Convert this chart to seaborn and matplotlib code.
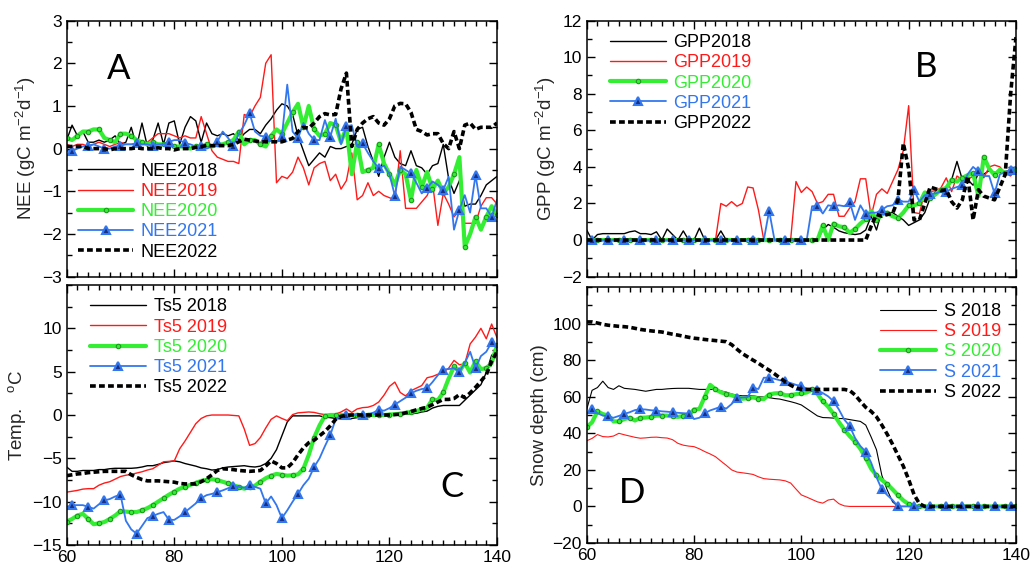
import matplotlib
matplotlib.use("Agg")
import matplotlib.pyplot as plt
from matplotlib.lines import Line2D
from matplotlib.ticker import MultipleLocator
import pandas as pd
import seaborn as sns

# day of year, one value per day
DOY = list(range(60, 141))
YEARS = ["2018", "2019", "2020", "2021", "2022"]

NEE_2018 = [0.2, 0.55, 0.3, 0.4, 0.15, 0.15, 0.2, 0.15, 0.2, 0.3,
            0.1, 0.15, 0.5, 0.05, 0.6, 0.05, 0.2, 0.6, 0.1, 0.6,
            0.65, 0.1, 0.5, 0.75, 0.65, 0.15, 0.6, 0.35, 0.3, 0.35,
            0.3, 0.35, 0.2, 0.35, 0.45, 0.45, 0.35, 0.55, 0.7, 0.9,
            1.05, 1.0, 0.8, 0.3, -0.05, -0.4, -0.25, -0.1, -0.2, 0.05,
            0.0, 0.0, 0.05, 0.1, 0.45, 0.5, 0.05, -0.3, -0.65, -0.2,
            0.15, -0.2, -0.35, -0.4, -0.05, -0.4, -0.45, -0.6, -0.4, -0.35,
            0.1, -0.7, -1.05, -0.75, -1.35, -1.3, -1.3, -1.1, -0.85, -0.75,
            -0.65]
NEE_2019 = [0.1, 0.05, 0.1, 0.1, 0.05, 0.1, 0.15, 0.1, 0.05, 0.1,
            0.15, 0.1, 0.1, 0.1, 0.15, 0.15, 0.25, 0.35, 0.35, 0.35,
            0.3, 0.25, 0.3, 0.25, 0.25, 0.75, 0.35, -0.05, -0.2, -0.25,
            -0.3, -0.3, -0.35, 0.8, 0.75, 1.0, 1.2, 2.0, 2.2, -0.8,
            -0.65, -0.7, -0.55, -0.2, -0.45, -0.85, -0.45, -0.35, -0.3, -0.75,
            -0.6, -0.95, -0.75, -0.1, -1.2, -1.1, -0.8, -1.1, -1.0, -1.1,
            -1.15, -1.2, -0.05, -1.4, -1.4, -1.4, -1.25, -1.1, -0.8, -1.8,
            -1.05, -1.3, -1.6, -1.45, -1.75, -1.75, -1.75, -1.35, -1.15, -1.15,
            -1.3]
NEE_2020 = [0.25, 0.2, 0.3, 0.4, 0.4, 0.45, 0.45, 0.25, 0.2, 0.15,
            0.35, 0.35, 0.3, 0.2, 0.15, 0.1, 0.15, 0.1, 0.1, 0.1,
            0.05, 0.05, 0.05, 0.0, 0.05, 0.05, 0.1, 0.05, 0.1, 0.1,
            0.15, 0.2, 0.4, 0.1, 0.2, 0.2, 0.1, 0.05, 0.3, 0.45,
            0.35, 0.6, 0.85, 1.05, 0.5, 1.0, 0.45, 0.3, 0.35, 0.6,
            0.55, 0.15, 0.5, -0.6, 0.15, -0.55, -0.5, -0.45, 0.1, -0.35,
            -0.6, -0.85, -0.5, -0.6, -1.2, -0.5, -0.9, -0.55, -0.95, -0.75,
            -1.05, -0.9, -0.6, -0.2, -2.3, -2.0, -1.6, -1.9, -1.6, -1.35,
            -1.55]
NEE_2021 = [-0.05, -0.05, 0.0, 0.05, 0.07, 0.1, 0.05, 0.0, 0.0, 0.05,
            0.07, 0.1, 0.1, 0.13, 0.1, 0.1, 0.07, 0.1, 0.1, 0.16,
            0.2, 0.2, 0.13, 0.1, 0.05, 0.07, 0.0, 0.05, 0.16, 0.4,
            0.25, 0.07, 0.35, 0.55, 0.83, 0.4, 0.3, 0.28, 0.2, 0.15,
            0.28, 1.5, 0.4, 0.24, 0.6, 0.35, 0.2, 0.2, 0.67, 0.28,
            0.7, 0.1, 0.52, 0.55, 0.05, 0.12, -0.1, -0.3, -0.46, -0.4,
            -0.6, -1.1, -0.42, -0.5, -0.58, -0.8, -1.05, -0.93, -0.77, -0.85,
            -0.97, -0.66, -1.9, -1.44, -1.09, -1.5, -0.62, -1.4, -1.4, -1.6,
            -1.2]
NEE_2022 = [0.05, 0.05, 0.05, 0.05, 0.0, 0.0, 0.0, 0.0, -0.03, 0.0,
            0.0, 0.0, 0.0, 0.02, 0.0, 0.0, 0.0, 0.02, 0.0, 0.0,
            -0.03, 0.0, 0.0, 0.0, 0.03, 0.05, 0.07, 0.07, 0.07, 0.07,
            0.07, 0.1, 0.16, 0.22, 0.2, 0.18, 0.16, 0.16, 0.16, 0.16,
            0.16, 0.2, 0.24, 0.4, 0.5, 0.48, 0.6, 0.75, 0.82, 0.79,
            0.8, 1.4, 1.77, 0.05, 0.45, 0.6, 0.7, 0.75, 0.6, 0.55,
            0.7, 1.0, 1.06, 1.05, 0.85, 0.45, 0.4, 0.32, 0.35, 0.35,
            0.12, 0.0, 0.4, 0.0, 0.55, 0.6, 0.45, 0.5, 0.5, 0.5,
            0.6]

GPP_2018 = [0.55, 0.0, 0.3, 0.35, 0.35, 0.35, 0.35, 0.35, 0.45, 0.5,
            0.35, 0.35, 0.3, 0.45, 0.0, 0.6, 0.3, 0.0, 0.5, 0.0,
            0.0, 0.65, 0.0, 0.0, 0.0, 0.5, 0.0, 0.0, 0.0, 0.0,
            0.0, 0.15, 0.0, 0.0, 0.0, 0.0, 0.0, 0.0, 0.0, 0.0,
            0.0, 0.0, 0.0, 0.0, 0.55, 0.85, 0.7, 0.5, 0.4, 0.35,
            0.3, 0.35, 0.55, 1.3, 0.55, 1.6, 1.5, 1.5, 1.3, 1.1,
            0.8, 0.95, 1.1, 1.5, 2.3, 2.65, 2.7, 2.75, 3.3, 4.3,
            3.3, 3.3, 3.0, 3.65, 3.6, 3.8, 3.7, 3.7, 3.75, 3.8,
            4.0]
GPP_2019 = [0.0, 0.0, 0.0, 0.0, 0.0, 0.0, 0.0, 0.0, 0.0, 0.0,
            0.0, 0.0, 0.0, 0.0, 0.0, 0.0, 0.0, 0.0, 0.0, 0.0,
            0.0, 0.0, 0.0, 0.0, 0.0, 2.0, 1.85, 2.1, 1.85, 2.0,
            2.9, 2.85, 1.65, 0.0, 0.0, 0.0, 0.0, 0.0, 0.0, 3.2,
            2.6, 2.9, 2.65, 2.0, 2.1, 2.5, 2.5, 1.3, 1.3, 1.75,
            2.1, 3.35, 3.35, 1.3, 2.5, 2.8, 2.55, 3.2, 3.85, 4.9,
            7.35, 1.5, 1.45, 2.65, 2.65, 2.7, 2.85, 3.4, 2.65, 3.5,
            3.3, 3.3, 3.5, 3.75, 3.4, 4.0, 4.1, 4.0, 3.65, 3.5,
            3.9]
GPP_2020 = [0.0, 0.0, 0.0, 0.0, 0.0, 0.0, 0.0, 0.0, 0.0, 0.0,
            0.0, 0.0, 0.0, 0.0, 0.0, 0.0, 0.0, 0.0, 0.0, 0.0,
            0.0, 0.0, 0.0, 0.0, 0.0, 0.0, 0.0, 0.0, 0.0, 0.0,
            0.0, 0.0, 0.0, 0.0, 0.0, 0.0, 0.0, 0.0, 0.0, 0.0,
            0.0, 0.0, 0.0, 0.0, 0.8, 0.0, 0.9, 0.75, 0.7, 0.4,
            0.6, 0.9, 1.15, 1.6, 1.1, 1.4, 1.5, 1.3, 1.2, 1.5,
            1.9, 1.9, 2.0, 2.6, 2.3, 2.5, 2.75, 2.85, 3.3, 3.2,
            3.4, 3.55, 3.65, 2.4, 4.55, 3.9, 3.55, 3.85, 3.65, 3.7,
            3.85]
GPP_2021 = [0.0, 0.0, 0.0, 0.0, 0.0, 0.0, 0.0, 0.0, 0.0, 0.0,
            0.0, 0.0, 0.0, 0.0, 0.0, 0.0, 0.0, 0.0, 0.0, 0.0,
            0.0, 0.0, 0.0, 0.0, 0.0, 0.0, 0.0, 0.0, 0.0, 0.0,
            0.0, 0.0, 0.0, 0.0, 1.6, 0.0, 0.0, 0.0, 0.0, 0.0,
            0.0, 0.0, 1.85, 1.85, 1.45, 1.9, 1.85, 1.9, 1.85, 2.1,
            1.1, 1.9, 1.4, 1.5, 1.5, 1.65, 1.85, 1.9, 2.2, 2.1,
            2.1, 2.75, 2.1, 2.45, 2.5, 2.55, 2.65, 2.65, 2.8, 2.9,
            3.0, 3.6, 4.0, 3.75, 3.5, 3.5, 2.55, 3.6, 3.7, 3.85,
            4.0]
GPP_2022 = [0.0, 0.0, 0.0, 0.0, 0.0, 0.0, 0.0, 0.0, 0.0, 0.0,
            0.0, 0.0, 0.0, 0.0, 0.0, 0.0, 0.0, 0.0, 0.0, 0.0,
            0.0, 0.0, 0.0, 0.0, 0.0, 0.0, 0.0, 0.0, 0.0, 0.0,
            0.0, 0.0, 0.0, 0.0, 0.0, 0.0, 0.0, 0.0, 0.0, 0.0,
            0.0, 0.0, 0.0, 0.0, 0.0, 0.0, 0.0, 0.0, 0.0, 0.0,
            0.0, 0.0, 0.0, 0.75, 1.4, 1.3, 1.4, 1.45, 2.2, 5.3,
            3.9, 1.1, 1.1, 2.0, 2.9, 2.8, 2.7, 2.75, 2.1, 1.75,
            2.2, 3.5, 1.1, 2.75, 2.4, 2.3, 2.2, 2.9, 3.6, 8.0,
            11.1]

TS_2018 = [-6.0, -6.5, -6.5, -6.4, -6.4, -6.4, -6.3, -6.3, -6.2, -6.15,
           -6.15, -6.15, -6.15, -6.1, -6.0, -5.85, -5.85, -5.7, -5.5, -5.4,
           -5.3, -5.4, -5.6, -5.75, -5.9, -6.1, -6.2, -6.35, -6.3, -6.1,
           -6.0, -5.95, -5.9, -5.85, -5.95, -6.0, -5.9, -5.6, -5.0, -4.0,
           -2.4, -0.8, -0.1, -0.1, -0.1, -0.1, -0.1, -0.1, -0.25, -0.3,
           -0.4, -0.45, -0.5, -0.4, -0.3, -0.2, -0.1, -0.05, 0.0, 0.0,
           0.0, 0.0, 0.05, 0.08, 0.15, 0.2, 0.35, 0.45, 0.8, 1.0,
           1.1, 1.1, 1.1, 1.1, 1.7, 2.3, 2.9, 3.5, 4.9, 6.9,
           7.3]
TS_2019 = [-8.9, -8.8, -8.7, -8.55, -8.5, -8.5, -8.1, -7.85, -7.7, -7.4,
           -7.1, -6.95, -6.85, -6.7, -6.55, -6.35, -6.2, -5.8, -5.4, -5.35,
           -5.3, -3.9, -3.0, -2.0, -1.0, -0.4, -0.1, 0.0, 0.0, 0.0,
           0.0, -0.05, -0.1, -1.6, -3.5, -3.3, -2.6, -1.5, -0.5, -0.1,
           -0.4, -0.65, 0.05, 0.25, 0.3, 0.35, 0.3, 0.15, 0.05, 0.05,
           0.1, 0.35, 0.7, 0.3, 0.7, 0.85, 0.9, 1.1, 1.5, 2.3,
           3.3, 3.8, 2.6, 2.2, 2.8, 3.1, 3.4, 4.3, 4.45, 4.7,
           4.95, 5.4, 6.3, 5.8, 5.9, 8.2, 9.0, 10.0, 8.8, 10.5,
           8.9]
TS_2020 = [-12.3, -12.0, -11.6, -11.4, -12.0, -12.6, -12.5, -12.35, -12.0, -11.6,
           -11.1, -11.15, -11.2, -11.2, -11.0, -10.75, -10.4, -10.0, -9.6, -9.2,
           -8.85, -8.5, -8.3, -8.05, -7.85, -7.6, -7.5, -7.4, -7.5, -7.7,
           -7.9, -8.1, -8.3, -8.5, -8.3, -8.15, -7.7, -7.3, -7.0, -6.8,
           -6.9, -7.0, -6.95, -6.85, -6.2, -4.6, -2.6, -1.2, -0.1, 0.0,
           0.0, 0.0, 0.0, 0.0, 0.0, 0.0, 0.0, 0.0, 0.0, 0.0,
           0.05, 0.1, 0.15, 0.25, 0.35, 0.45, 0.65, 0.85, 1.8, 1.7,
           2.6, 4.2, 5.6, 5.0, 6.0, 4.9, 6.2, 5.3, 5.4, 6.0,
           8.1]
TS_2021 = [-10.6, -10.4, -10.4, -10.4, -10.6, -10.8, -10.3, -9.85, -9.7, -9.4,
           -9.2, -12.2, -13.2, -13.7, -12.8, -11.9, -11.65, -11.4, -11.2, -12.1,
           -12.1, -11.7, -11.2, -10.7, -10.2, -9.6, -9.25, -9.1, -8.9, -8.7,
           -8.45, -8.15, -8.3, -8.4, -8.05, -8.3, -8.5, -10.2, -9.4, -10.4,
           -11.9, -11.0, -10.0, -9.1, -8.1, -7.35, -6.0, -5.0, -3.6, -2.3,
           -0.5, -0.1, 0.0, 0.0, 0.0, 0.0, 0.1, 0.27, 0.6, 0.5,
           0.8, 1.2, 1.6, 2.0, 2.5, 2.8, 3.0, 3.1, 3.8, 4.6,
           5.25, 5.3, 5.4, 5.0, 6.0, 7.3, 5.4, 6.8, 7.3, 8.4,
           7.7]
TS_2022 = [-7.0, -6.9, -6.8, -6.75, -6.65, -6.6, -6.55, -6.5, -6.5, -6.5,
           -6.5, -6.5, -6.9, -7.2, -7.45, -7.6, -7.6, -7.6, -7.65, -7.7,
           -7.75, -7.9, -7.95, -7.95, -7.95, -7.7, -7.35, -6.9, -6.4, -6.2,
           -6.25, -6.3, -6.4, -6.45, -6.5, -6.45, -6.4, -5.9, -5.3, -5.6,
           -6.1, -6.1, -5.5, -4.6, -3.8, -3.2, -2.9, -2.4, -1.9, -1.25,
           -0.5, -0.15, -0.05, 0.0, 0.0, 0.0, 0.0, 0.0, 0.0, 0.0,
           0.0, 0.05, 0.1, 0.25, 0.4, 0.6, 0.75, 0.9, 1.2, 1.5,
           1.8, 1.8, 1.9, 2.35, 2.0, 2.55, 3.2, 3.9, 4.65, 6.2,
           7.3]

SD_2018 = [53, 63.5, 65, 68.5, 65, 64, 66, 64.6, 64.3, 64,
           63.5, 63, 63.5, 64, 64, 64.3, 64.5, 64.6, 64.6, 64.6,
           64.3, 64, 64, 64, 64, 63.2, 62.5, 61.5, 60.8, 60.5,
           60.5, 60.5, 60, 59.8, 59.5, 59, 58.7, 58, 57.3, 56.5,
           55.5, 53.5, 51.5, 49.5, 48.6, 48.5, 48.3, 48.1, 48, 47.5,
           47, 46.5, 44.5, 38, 31, 17, 9, 2.5, 0, 0,
           0, 0, 0, 0, 0, 0, 0, 0, 0, 0,
           0, 0, 0, 0, 0, 0, 0, 0, 0, 0,
           0]
SD_2019 = [35.9, 37.2, 39.3, 38.2, 38, 38.5, 40, 39.2, 38.5, 37.8,
           37.3, 37.5, 37.8, 37.9, 37.6, 37.4, 36.5, 34.5, 33.5, 33,
           32.7, 31.5, 30, 28.7, 27.2, 24.8, 22.5, 20, 18.8, 18.4,
           18, 17.5, 16.2, 15.2, 14.9, 14.7, 14.5, 14.0, 12.8, 9.5,
           6.3, 5.1, 3.8, 2.5, 1.8, 3.5, 4.0, 1.5, 0.3, 0,
           0, 0, 0, 0, 0, 0, 0, 0, 0, 0,
           0, 0, 0, 0, 0, 0, 0, 0, 0, 0,
           0, 0, 0, 0, 0, 0, 0, 0, 0, 0,
           0]
SD_2020 = [43.4, 46, 52, 50.5, 49.7, 46.5, 46.5, 47.8, 48.5, 47,
           48.5, 48.6, 49, 49.7, 49.7, 49.7, 49.2, 49, 49.4, 49.7,
           53, 53.3, 60, 66.5, 64, 62.4, 61.5, 60.8, 59.8, 58.9,
           59.2, 59.6, 59, 58.7, 61.2, 61.8, 62, 60.8, 60.8, 61.4,
           61.8, 62.3, 64, 61.5, 57.5, 54.5, 50.6, 46.1, 42, 38.5,
           35.5, 31.5, 26.5, 20.7, 17, 14.5, 12.2, 9.3, 6.2, 3.3,
           1.2, 0, 0, 0, 0, 0, 0, 0, 0, 0,
           0, 0, 0, 0, 0, 0, 0, 0, 0, 0,
           0]
SD_2021 = [50.6, 53.3, 51, 49.7, 49.2, 48.5, 49.5, 50.6, 51.5, 52.7,
           53.2, 53, 52.6, 52.4, 52, 51.8, 51.5, 51.2, 51, 50.8,
           47.8, 48.5, 51, 52.5, 53.5, 54.6, 53.5, 56, 59.2, 59.6,
           59.8, 65, 64.2, 70.4, 70.4, 69.8, 69, 68.4, 67.5, 66.5,
           65.8, 64.4, 63.8, 63.5, 62, 60.2, 57.5, 53, 47.5, 44,
           37.5, 33, 30, 24, 16, 9.3, 6.2, 3.5, 0, 0,
           0, 0, 0, 0, 0, 0, 0, 0, 0, 0,
           0, 0, 0, 0, 0, 0, 0, 0, 0, 0,
           0]
SD_2022 = [100.9, 100.9, 100.3, 99.6, 99.1, 98.8, 98.5, 98.3, 98, 97.4,
           96.8, 96.4, 96, 95.7, 95.4, 94.8, 94.2, 93.7, 93.1, 92.5,
           92, 91.7, 91.3, 91, 90.7, 90.4, 90.1, 88.5, 86, 83.6,
           81.8, 80, 78.3, 76.3, 74.5, 72.5, 70.3, 68.2, 66.3, 64.8,
           64, 64, 64, 64, 64, 64, 64, 64, 64, 63.4,
           61, 57.5, 54.2, 52, 49, 44.5, 39.5, 34, 28, 22,
           14.7, 6.5, 1.5, 0, 0, 0, 0, 0, 0, 0,
           0, 0, 0, 0, 0, 0, 0, 0, 0, 0,
           0]

BLACK = "black"
RED = "#ff1a1a"
GREEN = "#33ee33"
BLUE = "#3377ee"


def year_styles(thin):
    return {
        "2018": dict(color=BLACK, lw=thin),
        "2019": dict(color=RED, lw=thin),
        "2020": dict(color=GREEN, lw=3.0, marker="o", ms=3.2,
                     mfc=GREEN, mec="#1c9a1c", mew=0.8),
        "2021": dict(color=BLUE, lw=1.3, marker="^", ms=5.8,
                     mfc="#1a2f80", mec=BLUE, mew=1.5),
        "2022": dict(color=BLACK, lw=2.6, linestyle=(0, (1.6, 0.9))),
    }


MARKEVERY = {"2020": 2, "2021": (1, 3)}


def draw_panel(ax, series, prefix, thin, ylim, yminor, yticks,
               ylabel, letter, letter_xy, legend_loc, legend_anchor):
    styles = year_styles(thin)
    handles = []
    for year, vals in zip(YEARS, series):
        df = pd.DataFrame({"doy": DOY, "val": vals})
        kws = dict(styles[year])
        if year in MARKEVERY:
            kws["markevery"] = MARKEVERY[year]
        sns.lineplot(data=df, x="doy", y="val", ax=ax, estimator=None,
                     errorbar=None, sort=False, **kws)
        handles.append(Line2D([], [], **styles[year]))
    labels = [prefix + y for y in YEARS]
    ax.legend(handles, labels, loc=legend_loc, bbox_to_anchor=legend_anchor,
              frameon=False, labelcolor="linecolor", fontsize=13,
              handlelength=3.1, handletextpad=0.4, labelspacing=0.18,
              borderaxespad=0.2)

    ax.set_xlim(60, 140)
    ax.set_ylim(*ylim)
    ax.xaxis.set_major_locator(MultipleLocator(20))
    ax.xaxis.set_minor_locator(MultipleLocator(2))
    ax.set_yticks(yticks)
    ax.yaxis.set_minor_locator(MultipleLocator(yminor))
    ax.tick_params(which="both", direction="in", top=True, right=True,
                   width=1.0, labelsize=12.5)
    ax.tick_params(which="major", length=6)
    ax.tick_params(which="minor", length=3.5)
    for sp in ax.spines.values():
        sp.set_linewidth(1.1)
    ax.set_xlabel("")
    ax.set_ylabel(ylabel, fontsize=13.5, labelpad=3)
    ax.text(letter_xy[0], letter_xy[1], letter, transform=ax.transAxes,
            fontsize=25, ha="center", va="center", color="black",
            family=["Lato", "DejaVu Sans"])


sns.set_style("ticks")
plt.rcParams["font.family"] = ["Liberation Sans", "DejaVu Sans"]
plt.rcParams["mathtext.fontset"] = "custom"
plt.rcParams["mathtext.rm"] = "Liberation Sans"
plt.rcParams["mathtext.it"] = "Liberation Sans:italic"
plt.rcParams["axes.edgecolor"] = "black"
plt.rcParams["xtick.color"] = "black"
plt.rcParams["ytick.color"] = "black"

fig = plt.figure(figsize=(10.34, 5.68), dpi=100)
ax_a = fig.add_axes([0.0645, 0.513, 0.4162, 0.4507])
ax_b = fig.add_axes([0.5674, 0.513, 0.4152, 0.4507])
ax_c = fig.add_axes([0.0645, 0.0405, 0.4162, 0.4577])
ax_d = fig.add_axes([0.5674, 0.044, 0.4152, 0.4507])

draw_panel(ax_a, [NEE_2018, NEE_2019, NEE_2020, NEE_2021, NEE_2022], "NEE", 1.0,
           (-3, 3), 0.5, [-3, -2, -1, 0, 1, 2, 3],
           "NEE (gC m$^{-2}$d$^{-1}$)", "A", (0.12, 0.81),
           "lower left", (0.0, 0.02))
draw_panel(ax_b, [GPP_2018, GPP_2019, GPP_2020, GPP_2021, GPP_2022], "GPP", 1.0,
           (-2, 12), 1, [-2, 0, 2, 4, 6, 8, 10, 12],
           "GPP (gC m$^{-2}$d$^{-1}$)", "B", (0.79, 0.82),
           "upper left", (0.03, 0.99))
draw_panel(ax_c, [TS_2018, TS_2019, TS_2020, TS_2021, TS_2022], "Ts5 ", 1.0,
           (-15, 15), 2.5, [-15, -10, -5, 0, 5, 10],
           "Temp.   $^{\\mathrm{o}}$C", "C", (0.895, 0.225),
           "upper left", (0.03, 0.99))
draw_panel(ax_d, [SD_2018, SD_2019, SD_2020, SD_2021, SD_2022], "S ", 0.8,
           (-20, 120), 10, [-20, 0, 20, 40, 60, 80, 100],
           "Snow depth (cm)", "D", (0.105, 0.195),
           "upper right", (0.99, 0.98))

ax_a.tick_params(labelbottom=False)
ax_b.tick_params(labelbottom=False)

fig.savefig("out.png", dpi=100)
